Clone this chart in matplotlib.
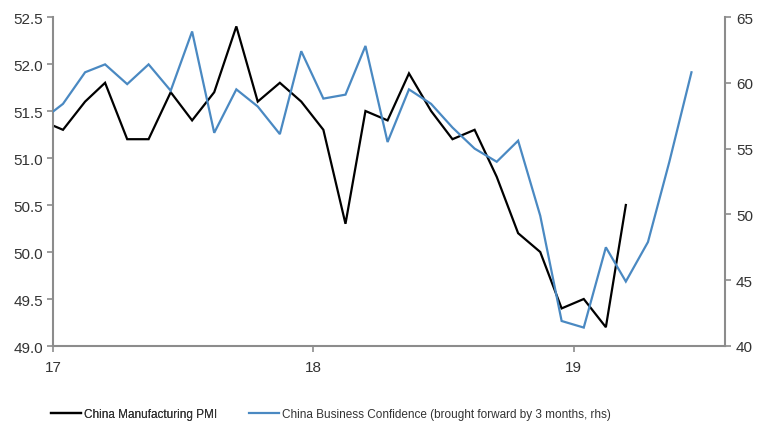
import matplotlib
matplotlib.use("Agg")
import matplotlib.pyplot as plt
import matplotlib.dates as mdates
from matplotlib.lines import Line2D
import pandas as pd

# ---- data ----
pmi_values = [51.4, 51.3, 51.6, 51.8, 51.2, 51.2, 51.7, 51.4, 51.7, 52.4, 51.6, 51.8,
              51.6, 51.3, 50.3, 51.5, 51.4, 51.9, 51.5, 51.2, 51.3, 50.8, 50.2, 50.0,
              49.4, 49.5, 49.2, 50.5]
pmi_months = pd.date_range("2016-12-01", periods=len(pmi_values), freq="MS") + pd.Timedelta(days=14)

conf_values = [57.1, 58.4, 60.8, 61.4, 59.9, 61.4, 59.4, 63.9, 56.2, 59.5, 58.2, 56.1,
               62.4, 58.8, 59.1, 62.8, 55.5, 59.5, 58.4, 56.6, 55.0, 54.0, 55.6, 49.9,
               41.9, 41.4, 47.5, 44.9, 47.9, 54.0, 60.8]
conf_months = pd.date_range("2016-12-01", periods=len(conf_values), freq="MS") + pd.Timedelta(days=14)

left_ticks = [49.0, 49.5, 50.0, 50.5, 51.0, 51.5, 52.0, 52.5]
right_ticks = [40, 45, 50, 55, 60, 65]
year_ticks = pd.to_datetime(["2017-01-01", "2018-01-01", "2019-01-01"])
legend_labels = ["China Manufacturing PMI",
                 "China Business Confidence (brought forward by 3 months, rhs)"]

# ---- style ----
plt.rcParams["font.family"] = ["Liberation Sans", "DejaVu Sans"]
txt = "#333333"
spine_c = "#8c8c8c"
blue = "#4a89c2"

fig = plt.figure(figsize=(7.61, 4.27), dpi=100)
ax = fig.add_axes([53/761, 1-347/427, (725-53)/761, (347-18)/427])
ax2 = ax.twinx()

ax.plot(pmi_months, pmi_values, color="black", lw=1.6, solid_joinstyle="miter")
ax2.plot(conf_months, conf_values, color=blue, lw=1.6, solid_joinstyle="miter")

ax.set_xlim(pd.Timestamp("2017-01-01"), pd.Timestamp("2019-08-01"))
ax.set_ylim(49.0, 52.5)
ax2.set_ylim(40, 65)
ax.set_yticks(left_ticks)
ax.set_yticklabels([f"{v:.1f}" for v in left_ticks])
ax2.set_yticks(right_ticks)
ax.set_xticks(year_ticks)
ax.xaxis.set_major_formatter(mdates.DateFormatter("%y"))

for a in (ax, ax2):
    a.spines["top"].set_visible(False)
    for s in ("left", "right", "bottom"):
        a.spines[s].set_color(spine_c)
        a.spines[s].set_linewidth(1.5)
    a.tick_params(colors=spine_c, labelcolor=txt, labelsize=11, length=4, width=1.2)
ax.spines["right"].set_visible(False)
ax2.spines["left"].set_visible(False)
ax2.spines["bottom"].set_visible(False)
ax.tick_params(axis="x", pad=6)
ax.tick_params(axis="y", pad=3)
ax2.tick_params(axis="y", pad=4)

y_leg = 1 - 415/427
leg1 = fig.legend([Line2D([], [], color="black", lw=1.6)], [legend_labels[0]],
                  loc="center left", bbox_to_anchor=(40/761, y_leg), frameon=False,
                  fontsize=8.5, handlelength=2.6, handletextpad=0.2, labelcolor=txt)
fig.legend([Line2D([], [], color=blue, lw=1.6)], [legend_labels[1]],
           loc="center left", bbox_to_anchor=(238/761, y_leg), frameon=False,
           fontsize=8.5, handlelength=2.6, handletextpad=0.2, labelcolor=txt)
fig.add_artist(leg1)

fig.savefig("out.png", dpi=100)
